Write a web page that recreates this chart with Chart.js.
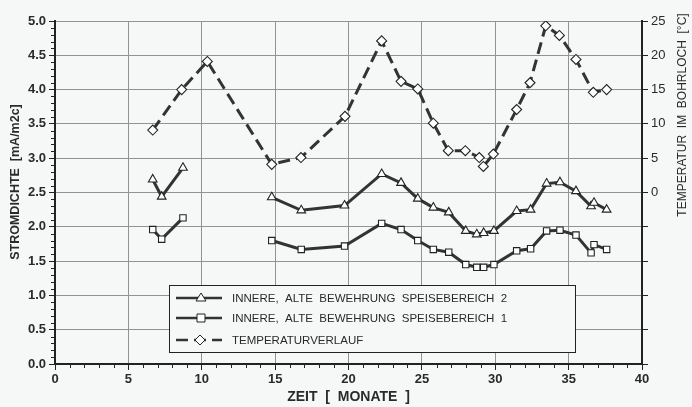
<!DOCTYPE html>
<html>
<head>
<meta charset="utf-8">
<script src="https://cdn.jsdelivr.net/npm/chart.js@4"></script>
<style>
  html, body { margin: 0; padding: 0; background: #f6f8f8; }
  #wrap { width: 692px; height: 407px; }
</style>
</head>
<body>
<div id="wrap"><canvas id="stromChart" width="692" height="407"></canvas></div>
<script>
// Messzeitpunkte (Monate) fuer die Stromdichte, null = Messluecke
const monate = [6.66, 7.27, 8.72, 11.5, 14.77, 16.78, 19.73, 22.26, 23.58, 24.72, 25.78, 26.83,
                27.99, 28.74, 29.21, 29.91, 31.46, 32.41, 33.5, 34.41, 35.5, 36.53, 36.73, 37.59];
const bereich2 = [2.69, 2.44, 2.86, null, 2.43, 2.24, 2.31, 2.77, 2.64, 2.41, 2.28, 2.21,
                  1.94, 1.89, 1.91, 1.94, 2.23, 2.25, 2.63, 2.65, 2.52, 2.30, 2.35, 2.25];
const bereich1 = [1.96, 1.82, 2.13, null, 1.80, 1.67, 1.72, 2.05, 1.96, 1.80, 1.67, 1.63,
                  1.45, 1.41, 1.41, 1.45, 1.65, 1.68, 1.94, 1.95, 1.88, 1.62, 1.74, 1.67];

// Temperatur im Bohrloch
const monateTemp = [6.66, 8.63, 10.38, 14.77, 16.76, 19.76, 22.26, 23.58, 24.72, 25.78, 26.80,
                    27.96, 28.91, 29.19, 29.87, 31.46, 32.37, 33.44, 34.37, 35.50, 36.68, 37.59];
const temperatur = [9.1, 15.0, 19.1, 4.1, 5.1, 11.1, 22.1, 16.2, 15.1, 10.1, 6.1,
                    6.1, 5.1, 3.8, 5.6, 12.1, 16.0, 24.3, 22.9, 19.4, 14.6, 15.0];

const legendLabels = [
    'INNERE,  ALTE  BEWEHRUNG  SPEISEBEREICH  2',
    'INNERE,  ALTE  BEWEHRUNG  SPEISEBEREICH  1',
    'TEMPERATURVERLAUF'
];
const titelLinks = 'STROMDICHTE  [mA/m2c]';
const titelRechts = 'TEMPERATUR  IM  BOHRLOCH  [°C]';

const textColor = '#2a2a2a';
const lineColor = '#333';
const fontFam = '"Liberation Sans", Arial, sans-serif';

function toPoints(xs, ys) {
    return xs.map((x, i) => ({ x: x, y: ys[i] }));
}

// Hintergrund
const bgPlugin = {
    id: 'bg',
    beforeDraw(chart) {
        const c = chart.ctx;
        c.save();
        c.fillStyle = '#f6f8f8';
        c.fillRect(0, 0, chart.width, chart.height);
        c.restore();
    }
};

// kleine Zwischenstriche an x- und linker y-Achse
const minorTicks = {
    id: 'minorTicks',
    afterDraw(chart) {
        const c = chart.ctx;
        const xs = chart.scales.x, ys = chart.scales.y;
        c.save();
        c.strokeStyle = '#222';
        c.lineWidth = 1;
        c.beginPath();
        for (let i = 0; i <= 40; i++) {
            if (i % 5 === 0) continue;
            const px = Math.round(xs.getPixelForValue(i)) + 0.5;
            c.moveTo(px, ys.bottom);
            c.lineTo(px, ys.bottom + 4);
        }
        for (let i = 0; i <= 50; i++) {
            if (i % 5 === 0) continue;
            const py = Math.round(ys.getPixelForValue(i / 10)) + 0.5;
            c.moveTo(xs.left - 4, py);
            c.lineTo(xs.left, py);
        }
        c.stroke();
        c.restore();
    }
};

// beide y-Achsentitel von unten nach oben gelesen
const axisTitles = {
    id: 'axisTitles',
    afterDraw(chart) {
        const c = chart.ctx;
        c.save();
        c.fillStyle = textColor;
        c.textAlign = 'center';
        c.textBaseline = 'middle';
        c.translate(16, 182);
        c.rotate(-Math.PI / 2);
        c.font = 'bold 12.5px ' + fontFam;
        c.fillText(titelLinks, 0, 0);
        c.restore();
        c.save();
        c.fillStyle = textColor;
        c.textAlign = 'center';
        c.textBaseline = 'middle';
        c.translate(683, 115);
        c.rotate(-Math.PI / 2);
        c.font = '12px ' + fontFam;
        c.fillText(titelRechts, 0, 0);
        c.restore();
    }
};

// Legende im Diagramm
const boxLegend = {
    id: 'boxLegend',
    afterDatasetsDraw(chart) {
        const c = chart.ctx;
        const bx = 169, by = 285, bw = 406, bh = 67;
        c.save();
        c.fillStyle = '#f6f8f8';
        c.fillRect(bx, by, bw, bh);
        c.strokeStyle = '#222';
        c.lineWidth = 1;
        c.strokeRect(bx + 0.5, by + 0.5, bw, bh);
        const rows = [298, 318, 340];
        chart.data.datasets.forEach((ds, i) => {
            const y = rows[i];
            c.strokeStyle = lineColor;
            c.lineWidth = 2.5;
            c.setLineDash(ds.borderDash || []);
            c.beginPath();
            c.moveTo(176, y);
            c.lineTo(222, y);
            c.stroke();
            c.setLineDash([]);
            c.fillStyle = '#fff';
            c.lineWidth = 1;
            c.strokeStyle = '#222';
            c.beginPath();
            if (ds.pointStyle === 'triangle') {
                c.moveTo(201, y - 5); c.lineTo(206, y + 3); c.lineTo(196, y + 3); c.closePath();
            } else if (ds.pointStyle === 'rect') {
                c.rect(197, y - 4, 8, 8);
            } else {
                c.moveTo(200, y - 5); c.lineTo(205, y); c.lineTo(200, y + 5); c.lineTo(195, y); c.closePath();
            }
            c.fill();
            c.stroke();
            c.fillStyle = textColor;
            c.font = '11.5px ' + fontFam;
            c.textBaseline = 'middle';
            c.fillText(legendLabels[i], 232, y + 1);
        });
        c.restore();
    }
};

const ctx = document.getElementById('stromChart').getContext('2d');
const stromChart = new Chart(ctx, {
    type: 'scatter',
    data: {
        datasets: [{
            label: legendLabels[0],
            data: toPoints(monate, bereich2),
            showLine: true,
            spanGaps: false,
            borderColor: lineColor,
            borderWidth: 3,
            pointStyle: 'triangle',
            pointRadius: 5,
            pointBackgroundColor: '#fff',
            pointBorderColor: '#222',
            pointBorderWidth: 1.1,
            yAxisID: 'y'
        }, {
            label: legendLabels[1],
            data: toPoints(monate, bereich1),
            showLine: true,
            spanGaps: false,
            borderColor: lineColor,
            borderWidth: 3,
            pointStyle: 'rect',
            pointRadius: 4.5,
            pointBackgroundColor: '#fff',
            pointBorderColor: '#222',
            pointBorderWidth: 1.1,
            yAxisID: 'y'
        }, {
            label: legendLabels[2],
            data: toPoints(monateTemp, temperatur),
            showLine: true,
            borderColor: lineColor,
            borderWidth: 3,
            borderDash: [12, 6],
            pointStyle: 'rectRot',
            pointRadius: 5,
            pointBackgroundColor: '#fff',
            pointBorderColor: '#222',
            pointBorderWidth: 1.1,
            yAxisID: 'y2'
        }]
    },
    options: {
        responsive: false,
        animation: false,
        layout: { padding: { top: 21, left: 0, right: 0, bottom: 0 } },
        plugins: {
            legend: { display: false },
            tooltip: { enabled: false }
        },
        scales: {
            x: {
                type: 'linear',
                min: 0,
                max: 40,
                afterFit(scale) { scale.height = 43; },
                ticks: {
                    stepSize: 5,
                    autoSkip: false,
                    maxRotation: 0,
                    padding: 2,
                    color: textColor,
                    font: { family: fontFam, size: 13, weight: 'bold' }
                },
                grid: { color: '#939393', lineWidth: 1, tickLength: 6, tickColor: '#222' },
                border: { color: '#222', width: 2 },
                title: {
                    display: true,
                    text: 'ZEIT  [  MONATE  ]',
                    color: textColor,
                    padding: { top: 0, bottom: 1 },
                    font: { family: fontFam, size: 14, weight: 'bold' }
                }
            },
            y: {
                position: 'left',
                min: 0,
                max: 5,
                afterFit(scale) { scale.width = 55; },
                ticks: {
                    stepSize: 0.5,
                    autoSkip: false,
                    padding: 3,
                    color: textColor,
                    callback: v => v.toFixed(1),
                    font: { family: fontFam, size: 13, weight: 'bold' }
                },
                grid: { color: '#939393', lineWidth: 1, tickLength: 6, tickColor: '#222' },
                border: { color: '#222', width: 2 }
            },
            y2: {
                position: 'right',
                min: -25,
                max: 25,
                afterFit(scale) { scale.width = 50; },
                ticks: {
                    stepSize: 5,
                    autoSkip: false,
                    padding: 3,
                    color: textColor,
                    callback: v => (v >= 0 ? String(v) : ''),
                    font: { family: fontFam, size: 13 }
                },
                grid: { drawOnChartArea: false, tickLength: 6, tickColor: '#222' },
                border: { color: '#222', width: 2 }
            }
        }
    },
    plugins: [bgPlugin, minorTicks, axisTitles, boxLegend]
});
</script>
</body>
</html>
